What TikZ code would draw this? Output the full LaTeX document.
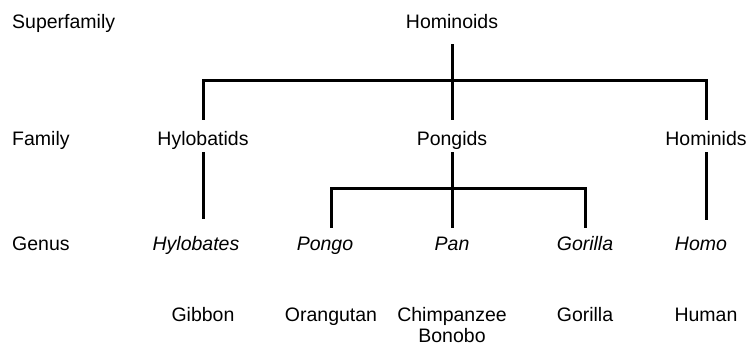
\documentclass[tikz,border=0pt]{standalone}
\usepackage{fontspec}
\setmainfont{Liberation Sans}
\usetikzlibrary{calc}
\newcommand{\lblsize}{\fontsize{19.5}{23}\selectfont}

\tikzset{
  rank/.style={anchor=west, inner sep=0pt, text height=14pt, text depth=4pt, font=\lblsize},
  taxon/.style={inner sep=0pt, text height=14pt, text depth=4pt, font=\lblsize},
  genus/.style={taxon, font=\lblsize\itshape},
  common/.style={inner sep=0pt, align=center, anchor=base, font=\lblsize},
  branch/.style={line width=3pt},
}

\begin{document}
\begin{tikzpicture}[x=1pt, y=-1pt]
\useasboundingbox (0,0) rectangle (748,347);
% ranks
\node[rank] (superfamily) at (12,24) {Superfamily};
\node[rank] (family) at (12,141) {Family};
\node[rank] (genus) at (12,246) {Genus};
% taxa
\node[taxon] (hominoids) at (452,24) {Hominoids};
\node[taxon] (hylobatids) at (203,141) {Hylobatids};
\node[taxon] (pongids) at (452,141) {Pongids};
\node[taxon] (hominids) at (706,141) {Hominids};
\node[genus] (hylobates) at (196,246) {Hylobates};
\node[genus] (pongo) at (325,246) {Pongo};
\node[genus] (pan) at (452,246) {Pan};
\node[genus] (gorilla) at (585,246) {Gorilla};
\node[genus] (homo) at (701,246) {Homo};
% common names
\node[common] (gibbon) at (203,322) {Gibbon};
\node[common] (orangutan) at (331,322) {Orangutan};
\node[common] (chimp) at (452,343) {Chimpanzee\\[-2pt]Bonobo};
\node[common] (gorillaC) at (585,322) {Gorilla};
\node[common] (human) at (706,322) {Human};
% branches
\coordinate (famBar) at (452,81);
\coordinate (genBar) at (452,189);
\draw[branch, shorten <=11pt, shorten >=12pt] (hominoids) -- (pongids);
\draw[branch] ($(hylobatids.north)+(0,-12)$) |- (famBar) -| ($(hominids.north)+(0,-12)$);
\draw[branch, shorten <=2pt] (hylobatids) -- ($(hylobatids |- hylobates.north)+(0,-18)$);
\draw[branch, shorten <=2pt] (hominids) -- ($(hominids |- homo.north)+(0,-17)$);
\draw[branch, shorten <=2pt, shorten >=9pt] (pongids) -- (pan);
\draw[branch] ($(orangutan |- pongo.north)+(0,-9)$) |- (genBar) -| ($(gorillaC |- gorilla.north)+(0,-9)$);
\end{tikzpicture}
\end{document}
